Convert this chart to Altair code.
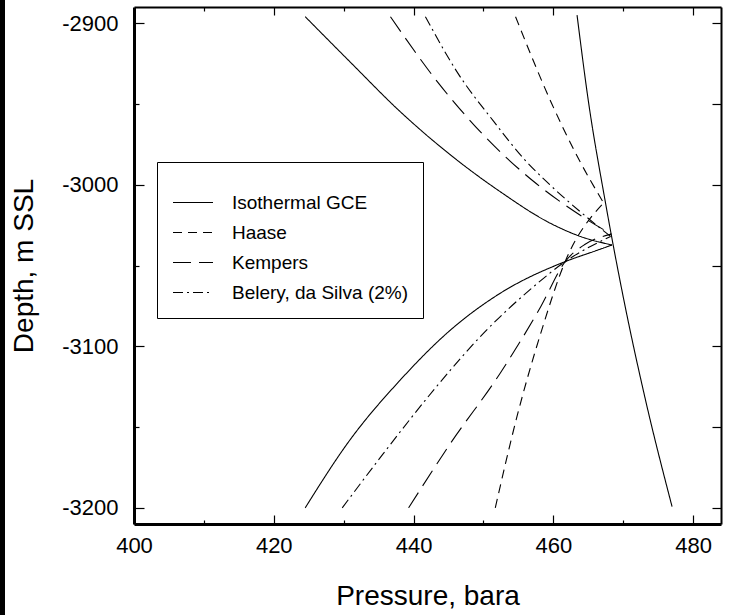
import altair as alt
import pandas as pd

SERIES = ["Isothermal GCE", "Haase", "Kempers", "Belery, da Silva (2%)"]
DASHES = [[1, 0], [9, 6], [18, 8], [10, 4, 2, 4]]

# Isothermal GCE (gas branch, lower branch, steep gradient line)
iso_upper_p = [424.5, 430.9, 438.1, 445.3, 452.4, 459.6, 464.0, 468.4]
iso_upper_d = [-2896, -2923.9, -2954.8, -2981.6, -3004.3, -3023.9, -3032.2, -3037.3]
iso_lower_p = [424.5, 430.9, 438.1, 445.3, 452.4, 461.7, 466.0, 468.4]
iso_lower_d = [-3200, -3158, -3120.9, -3089.9, -3067.2, -3047.6, -3041.0, -3037.3]
steep_p = [463.4, 465.0, 467.4, 470.1, 473.2, 477.0]
steep_d = [-2895, -2947.6, -3009.5, -3071.4, -3133.3, -3199.3]

# Haase
haase_upper_p = [454.6, 459.8, 463.5, 467.2]
haase_upper_d = [-2896, -2950, -2983, -3011.3]
haase_lower_p = [451.7, 454.8, 458.2, 461.7, 467.2]
haase_lower_d = [-3200, -3143.6, -3092, -3047.6, -3011.3]

# Kempers
kemp_upper_p = [436.7, 443.4, 450.0, 457.2, 461.0, 464.6, 468.3]
kemp_upper_d = [-2896, -2936.2, -2969.2, -2998.0, -3010.5, -3021.0, -3030.6]
kemp_lower_p = [439.3, 445.3, 452.4, 458.2, 461.7, 464.5, 468.3]
kemp_lower_d = [-3200, -3160, -3116.7, -3075.5, -3047.6, -3037.0, -3030.6]

# Belery, da Silva (2%)
bel_upper_p = [441.7, 446.2, 451.5, 455.8, 459.5, 463.8, 468.2]
bel_upper_d = [-2896, -2930, -2961, -2984, -3000, -3016.5, -3032]
bel_lower_p = [429.8, 435.7, 442.9, 450.0, 457.2, 461.7, 468.2]
bel_lower_d = [-3200, -3166.3, -3127, -3092, -3063, -3047.6, -3032]

X_MAJOR = [400, 420, 440, 460, 480]
X_MINOR = [410, 430, 450, 470]
X_TOP_MAJOR = [420, 440, 460, 480]
Y_MAJOR = [-3200, -3100, -3000, -2900]
Y_MINOR = [-3150, -3050, -2950]
Y_RIGHT = [-3200, -3150, -3100, -3050, -3000, -2950, -2900]

rows = []


def add(series, seg, ps, ds):
    for i, (p, d) in enumerate(zip(ps, ds)):
        rows.append({"series": series, "segment": f"{series}|{seg}",
                     "idx": i, "pressure": p, "depth": d})


add(SERIES[0], "upper", iso_upper_p, iso_upper_d)
add(SERIES[0], "lower", iso_lower_p, iso_lower_d)
add(SERIES[0], "steep", steep_p, steep_d)
add(SERIES[1], "upper", haase_upper_p, haase_upper_d)
add(SERIES[1], "lower", haase_lower_p, haase_lower_d)
add(SERIES[2], "upper", kemp_upper_p, kemp_upper_d)
add(SERIES[2], "lower", kemp_lower_p, kemp_lower_d)
add(SERIES[3], "upper", bel_upper_p, bel_upper_d)
add(SERIES[3], "lower", bel_lower_p, bel_lower_d)
df = pd.DataFrame(rows)

FONT = "Liberation Sans"
x_scale = alt.Scale(domain=[400, 484], nice=False, zero=False)
y_scale = alt.Scale(domain=[-3210, -2890], nice=False, zero=False)

base = alt.Chart(df)

lines = base.mark_line(color="black", strokeWidth=1.1, interpolate="monotone").encode(
    x=alt.X("pressure:Q", scale=x_scale,
            axis=alt.Axis(orient="bottom", values=X_MAJOR, tickSize={"expr": "-9"},
                          tickColor="black", tickWidth=1.2, grid=False,
                          labelExpr="datum.value + ''", labelFont=FONT, labelFontSize=22,
                          labelColor="black", labelPadding=20, labelFlush=False,
                          labelOverlap=False, title="Pressure, bara", titleFont=FONT,
                          titleFontSize=28, titleFontWeight="normal", titleColor="black",
                          titlePadding=26, domainColor="black", domainWidth=3)),
    y=alt.Y("depth:Q", scale=y_scale,
            axis=alt.Axis(orient="left", values=Y_MAJOR, tickSize={"expr": "-10"},
                          tickColor="black", tickWidth=1.2, grid=False,
                          labelExpr="datum.value + ''", labelFont=FONT, labelFontSize=22,
                          labelColor="black", labelPadding=26, labelFlush=False,
                          labelOverlap=False, title="Depth, m SSL", titleFont=FONT,
                          titleFontSize=28, titleFontWeight="normal", titleColor="black",
                          titlePadding=23, domainColor="black", domainWidth=3)),
    strokeDash=alt.StrokeDash(
        "series:N", scale=alt.Scale(domain=SERIES, range=DASHES),
        legend=alt.Legend(orient="none", legendX=23, legendY=155, title=" ",
                          titleFontSize=8, titlePadding=8, strokeColor="black",
                          fillColor="white", padding=15, symbolType="stroke",
                          symbolSize=1600, symbolStrokeWidth=1.1,
                          symbolStrokeColor="black", labelFont=FONT, labelFontSize=19,
                          labelColor="black", labelOffset=18, labelLimit=400,
                          rowPadding=10, clipHeight=19)),
    detail="segment:N",
    order="idx:Q",
)

minor = base.mark_point(opacity=0, size=1).encode(
    x=alt.X("pressure:Q", scale=x_scale,
            axis=alt.Axis(orient="bottom", values=X_MINOR, tickSize={"expr": "-4"},
                          tickColor="black", tickWidth=1.2, labels=False, domain=False,
                          grid=False, title=None)),
    y=alt.Y("depth:Q", scale=y_scale,
            axis=alt.Axis(orient="left", values=Y_MINOR, tickSize={"expr": "-5"},
                          tickColor="black", tickWidth=1.2, labels=False, domain=False,
                          grid=False, title=None)),
)

top_right = base.mark_point(opacity=0, size=1).encode(
    x=alt.X("pressure:Q", scale=x_scale,
            axis=alt.Axis(orient="top", values=X_TOP_MAJOR, tickSize={"expr": "-8"},
                          tickColor="black", tickWidth=1.2, labels=False, grid=False,
                          title=None, domainColor="black", domainWidth=2)),
    y=alt.Y("depth:Q", scale=y_scale,
            axis=alt.Axis(orient="right", values=Y_RIGHT, tickSize={"expr": "-9"},
                          tickColor="black", tickWidth=1.2, labels=False, grid=False,
                          title=None, domainColor="black", domainWidth=2)),
)

top_minor = base.mark_point(opacity=0, size=1).encode(
    x=alt.X("pressure:Q", scale=x_scale,
            axis=alt.Axis(orient="top", values=X_MINOR, tickSize={"expr": "-4"},
                          tickColor="black", tickWidth=1.2, labels=False, domain=False,
                          grid=False, title=None)),
    y=alt.Y("depth:Q", scale=y_scale, axis=None),
)

edge = alt.Chart(pd.DataFrame({"edge": [0]})).mark_rule(color="black", strokeWidth=5).encode(
    x=alt.value(-131.5), y=alt.value(-7), y2=alt.value(608)
)

chart = alt.layer(lines, minor, top_right, top_minor, edge).resolve_axis(
    x="independent", y="independent"
).properties(
    width=587, height=517,
    padding={"left": 134, "top": 7, "right": 14, "bottom": 91},
    autosize=alt.AutoSizeParams(type="none"),
).configure_view(strokeWidth=0).configure(font=FONT, background="white")

chart.save("out.html", embed_options={"renderer": "svg", "actions": False})
